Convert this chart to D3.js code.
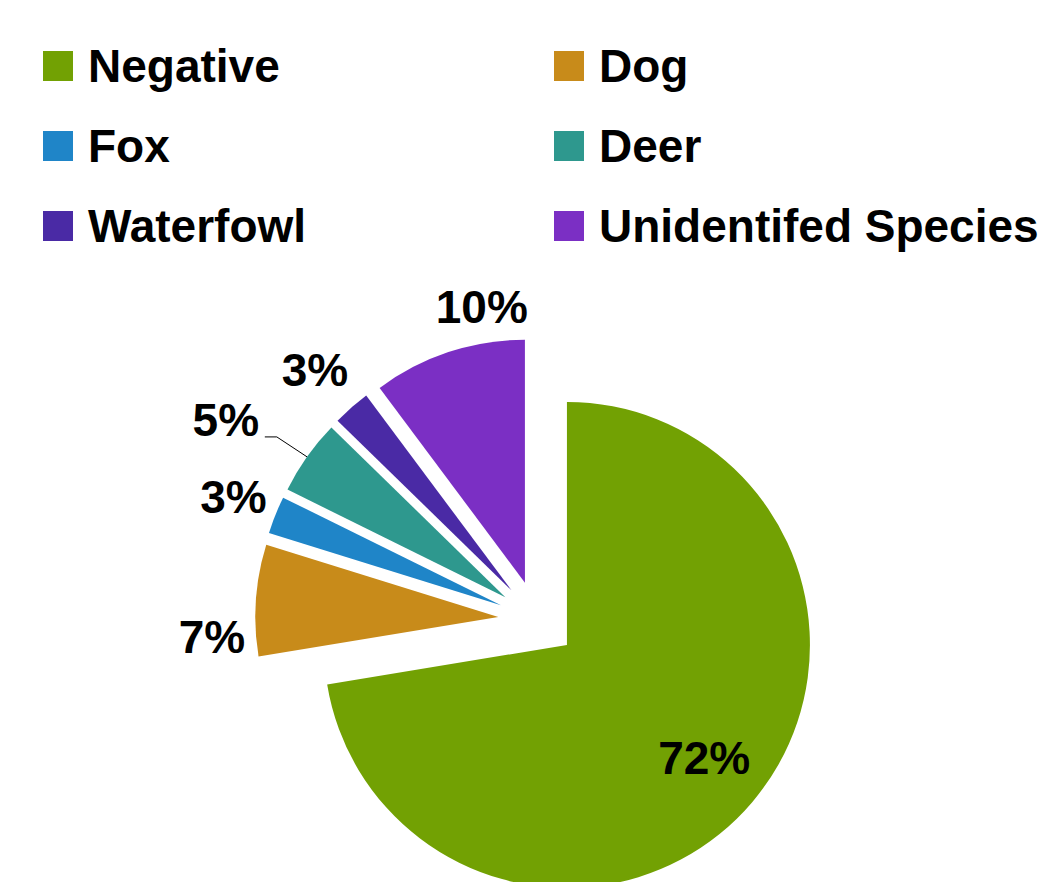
<!DOCTYPE html>
<html>
<head>
<meta charset="utf-8">
<script src="https://cdn.jsdelivr.net/npm/d3@7"></script>
<style>
  body { margin: 0; background: #fff; }
  svg { display: block; }
  text { font-family: "Liberation Sans", Arial, sans-serif; font-weight: bold; fill: #000; }
</style>
</head>
<body>
<div id="chart"></div>
<script>
// data (shares in percent)
const categories = ["Negative", "Dog", "Fox", "Deer", "Waterfowl", "Unidentifed Species"];
const values = [72.4, 7.4, 2.5, 5.0, 2.5, 10.2];
const pctLabels = ["72%", "7%", "3%", "5%", "3%", "10%"];
const colors = ["#72a103", "#c88b1a", "#1f85c8", "#2e988e", "#4a2aa5", "#7b2fc4"];

// label placement (distance from slice apex, turn in degrees off the bisector)
const labelDist = [177.5, 287, 289, 331, 296, 280];
const labelTurn = [-1.0, -7.9, 0.4, -2.9, -0.4, 9.5];

const width = 1039, height = 882;
const cx = 537.2, cy = 619.7;
let radius = 243;
let explode = 39;
let fontSize = 46;

const svg = d3.select("#chart").append("svg")
    .attr("width", width)
    .attr("height", height);

// legend, two columns
const legend = svg.append("g");
const item = legend.selectAll("g")
    .data(categories)
    .enter().append("g")
    .attr("transform", (d, i) => `translate(${i % 2 ? 554 : 43},${51 + Math.floor(i / 2) * 80})`);

item.append("rect")
    .attr("width", 30)
    .attr("height", 30)
    .attr("fill", (d, i) => colors[i]);

item.append("text")
    .attr("x", (d, i) => i % 2 ? 45 : 45)
    .attr("y", 15)
    .attr("dy", "0.34em")
    .style("font-size", fontSize + "px")
    .text(d => d);

// pie
const pie = d3.pie().sort(null).value(d => d);
const arcs = pie(values);
const arc = d3.arc().innerRadius(0).outerRadius(radius);

// unit vector along a d3 angle (0 = up, clockwise)
const dir = a => [Math.sin(a), -Math.cos(a)];
const mid = d => (d.startAngle + d.endAngle) / 2;
const apex = d => {
  const v = dir(mid(d));
  return [cx + v[0] * explode, cy + v[1] * explode];
};

function labelPos(d, i) {
  const p = apex(d);
  const v = dir(mid(d) + labelTurn[i] * Math.PI / 180);
  return [p[0] + v[0] * labelDist[i], p[1] + v[1] * labelDist[i]];
}

const slices = svg.append("g");
slices.selectAll("path")
    .data(arcs)
    .enter().append("path")
    .attr("transform", d => `translate(${apex(d)})`)
    .attr("d", arc)
    .attr("fill", (d, i) => colors[i]);

// leader line for the Deer label
const deer = arcs[3];
const dp = apex(deer), dv = dir(mid(deer));
const lp = labelPos(deer, 3);
svg.append("path")
    .attr("d", d3.line()([
      [lp[0] + 39, lp[1] + 17],
      [lp[0] + 51, lp[1] + 17],
      [dp[0] + dv[0] * radius, dp[1] + dv[1] * radius]
    ]))
    .attr("fill", "none")
    .attr("stroke", "#000")
    .attr("stroke-width", 1);

svg.append("g").selectAll("text")
    .data(arcs)
    .enter().append("text")
    .attr("x", (d, i) => labelPos(d, i)[0])
    .attr("y", (d, i) => labelPos(d, i)[1])
    .attr("dy", "0.36em")
    .attr("text-anchor", "middle")
    .style("font-size", fontSize + "px")
    .text((d, i) => pctLabels[i]);
</script>
</body>
</html>
